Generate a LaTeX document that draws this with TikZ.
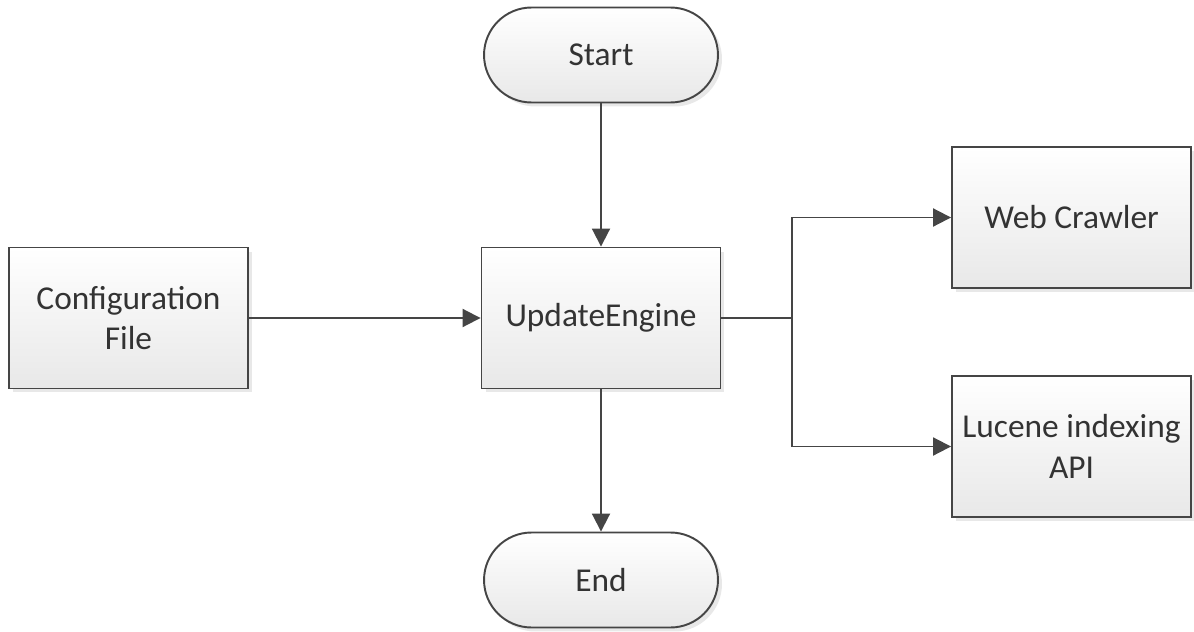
\documentclass[tikz,border=0pt]{standalone}
\usepackage{fontspec}
\setmainfont{Carlito}
\usepackage{xcolor}
\usepackage{tikz}
\usetikzlibrary{arrows.meta, positioning, shadows}
\definecolor{lnclr}{HTML}{454545}
\definecolor{txclr}{HTML}{333333}
\tikzset{
  blk/.style ={rectangle, draw=lnclr, line width=1.1pt, align=center, text=txclr,
               font=\fontsize{19}{23}\selectfont, top color=white, bottom color=black!9,
               drop shadow={opacity=0.18, shadow xshift=0.08cm, shadow yshift=-0.08cm}},
  proc/.style={blk, minimum width=4.78cm, minimum height=2.82cm},
  term/.style={blk, minimum width=4.68cm, minimum height=1.9cm, rounded corners=0.95cm},
  fl/.style  ={draw=lnclr, line width=1.1pt, -{Triangle[length=3.6mm, width=3.6mm]}},
}
\begin{document}
\begin{tikzpicture}[x=0.02cm, y=-0.02cm]
\useasboundingbox[fill=white] (0,0) rectangle (1194,632);

% flow nodes
\node[term] (start) at (601,55) {Start};
\node[proc] (engine) at (601,318) {UpdateEngine};
\node[term] (end) at (601,580) {End};

% input and outputs
\node[proc] (config) at (128.5,318) {Configuration\\File};
\node[proc] (crawler) at (1071.5,217.5) {Web Crawler};
\node[proc] (lucene) at (1071.5,446.5) {Lucene indexing\\API};

\coordinate (split) at (792,318);

% connectors
\draw[fl] (start.south) -- (engine.north);
\draw[fl] (engine.south) -- (end.north);
\draw[fl] (config.east) -- (engine.west);
\draw[fl] (engine.east) -- (split) |- (crawler.west);
\draw[fl] (engine.east) -- (split) |- (lucene.west);

\end{tikzpicture}
\end{document}
